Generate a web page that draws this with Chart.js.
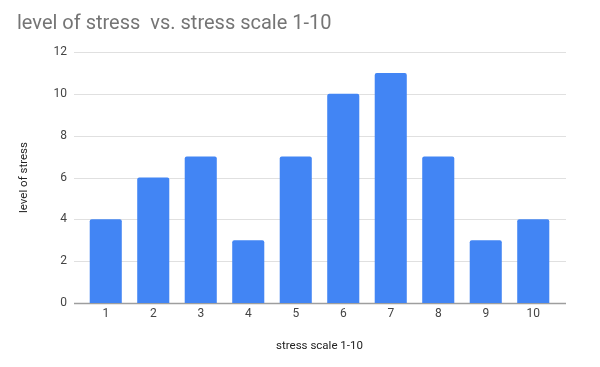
<!DOCTYPE html>
<html>
<head>
<meta charset="utf-8">
<script src="https://cdn.jsdelivr.net/npm/chart.js@4"></script>
<style>
  html, body { margin: 0; padding: 0; background: #fff; }
  #wrap { width: 600px; height: 367px; }
</style>
</head>
<body>
<div id="wrap"><canvas id="chart" width="600" height="367"></canvas></div>
<script>
// ── Data ──────────────────────────────────────────────
const categories = ["1", "2", "3", "4", "5", "6", "7", "8", "9", "10"];
const stressLevels = [4, 6, 7, 3, 7, 10, 11, 7, 3, 4];
const yTicks = [0, 2, 4, 6, 8, 10, 12];

Chart.defaults.font.family = "Roboto, Arial, sans-serif";

// gridlines in Sheets run a bit past the first/last category, so draw them wider
const wideGrid = {
  id: "wideGrid",
  beforeDatasetsDraw(chart) {
    const { ctx, chartArea, scales: { y } } = chart;
    const x0 = chartArea.left - 8, x1 = chartArea.right + 9;
    ctx.save();
    yTicks.forEach(v => {
      const py = Math.round(y.getPixelForValue(v)) + 0.5;
      ctx.strokeStyle = v === 0 ? "#9e9e9e" : "#e0e0e0";
      ctx.lineWidth = v === 0 ? 1.5 : 1;
      ctx.beginPath();
      ctx.moveTo(x0, py);
      ctx.lineTo(x1, py);
      ctx.stroke();
    });
    ctx.restore();
  }
};

new Chart(document.getElementById("chart"), {
  type: "bar",
  data: {
    labels: categories,
    datasets: [{
      label: "level of stress",
      data: stressLevels,
      backgroundColor: "#4285f4",
      borderRadius: 2,
      borderSkipped: "bottom",
      barPercentage: 0.675,
      categoryPercentage: 1,
    }]
  },
  plugins: [wideGrid],
  options: {
    responsive: false,
    animation: false,
    layout: { padding: { left: 17, right: 43, top: 0, bottom: 10 } },
    plugins: {
      legend: { display: false },
      tooltip: { enabled: false },
      title: {
        display: true,
        text: "level of stress  vs. stress scale 1-10",
        align: "start",
        color: "#757575",
        font: { size: 20, weight: "normal" },
        padding: { top: 12, bottom: 16 },
      },
    },
    scales: {
      x: {
        grid: { display: false, drawTicks: false },
        border: { display: false },
        ticks: { color: "#444", font: { size: 12 }, padding: 4 },
        title: { display: true, text: "stress scale 1-10", color: "#222", font: { size: 11.5 }, padding: { top: 7 } },
        afterFit: s => { s.height = 54; },
      },
      y: {
        min: 0, max: 12,
        afterBuildTicks: s => { s.ticks = yTicks.map(v => ({ value: v })); },
        grid: { display: false, drawTicks: false },
        border: { display: false },
        ticks: { color: "#444", font: { size: 12 }, padding: 15 },
        title: { display: true, text: "level of stress", color: "#222", font: { size: 11.5 }, padding: { top: 0 } },
        afterFit: s => { s.width = 65; },
      }
    }
  }
});
</script>
</body>
</html>
